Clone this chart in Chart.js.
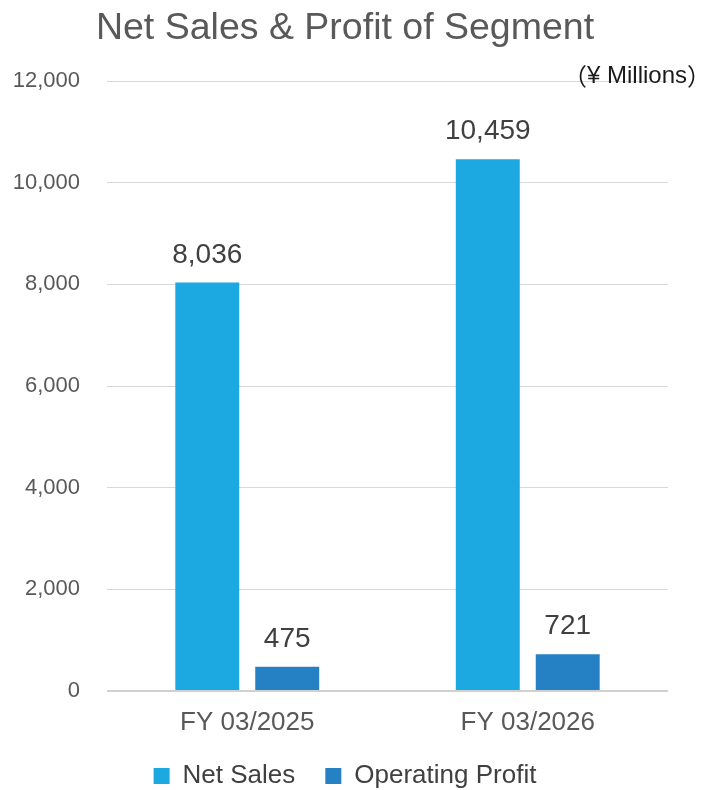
<!DOCTYPE html>
<html>
<head>
<meta charset="utf-8">
<script src="https://cdn.jsdelivr.net/npm/chart.js@4/dist/chart.umd.min.js"></script>
<style>
  body { margin: 0; background: #fff; }
  #wrap { width: 705px; height: 790px; }
</style>
</head>
<body>
<div id="wrap"><canvas id="segChart" width="705" height="790"></canvas></div>
<script>
const categories = ['FY 03/2025', 'FY 03/2026'];
const netSales = [8036, 10459];
const operatingProfit = [475, 721];
const yTicks = [0, 2000, 4000, 6000, 8000, 10000, 12000];
const unitNote = ['（', '¥ Millions', '）'];

const FONT = "'Liberation Sans', Arial, sans-serif";
const CJK = "'Noto Sans CJK JP', sans-serif";

// value labels above bars + unit note
const labelPlugin = {
    id: 'labels',
    afterLayout(chart) {
        // let the y tick labels use the left padding too (otherwise they get clipped)
        chart.scales.y.left = 0;
    },
    afterDatasetsDraw(chart) {
        const ctx = chart.ctx;
        ctx.save();
        ctx.font = '28px ' + FONT;
        ctx.fillStyle = '#404040';
        ctx.textAlign = 'center';
        ctx.textBaseline = 'alphabetic';
        chart.data.datasets.forEach((ds, i) => {
            chart.getDatasetMeta(i).data.forEach((bar, j) => {
                ctx.fillText(ds.data[j].toLocaleString('en-US'), bar.x, bar.y - 20);
            });
        });
        // unit note, drawn right to left
        ctx.fillStyle = '#1a1a1a';
        ctx.textAlign = 'right';
        ctx.textBaseline = 'middle';
        let x = 711;
        const fonts = ['24px ' + CJK, '24px ' + FONT, '24px ' + CJK];
        for (let k = unitNote.length - 1; k >= 0; k--) {
            ctx.font = fonts[k];
            ctx.fillText(unitNote[k], x, 76);
            x -= ctx.measureText(unitNote[k]).width;
        }
        ctx.restore();
    }
};

new Chart(document.getElementById('segChart').getContext('2d'), {
    type: 'bar',
    data: {
        labels: categories,
        datasets: [{
            label: 'Net Sales',
            data: netSales,
            backgroundColor: '#1CA9E1',
            barPercentage: 0.8,
            categoryPercentage: 0.57
        }, {
            label: 'Operating Profit',
            data: operatingProfit,
            backgroundColor: '#2680C4',
            barPercentage: 0.8,
            categoryPercentage: 0.57
        }]
    },
    options: {
        responsive: false,
        animation: false,
        layout: { padding: { left: 22, right: 37, top: 0, bottom: 0 } },
        scales: {
            x: {
                grid: { display: false },
                border: { display: false },
                afterFit(axis) { axis.height = 42; },
                ticks: { color: '#595959', font: { family: FONT, size: 26 }, padding: 8 }
            },
            y: {
                min: 0,
                max: 12000,
                afterBuildTicks(axis) { axis.ticks = yTicks.map(v => ({ value: v })); },
                afterFit(axis) { axis.width = 85; },
                border: { display: false },
                grid: {
                    color: ctx => ctx.tick && ctx.tick.value === 0 ? '#d0d0d0' : '#d9d9d9',
                    lineWidth: ctx => ctx.tick && ctx.tick.value === 0 ? 2 : 1,
                    drawTicks: false
                },
                ticks: {
                    color: '#595959',
                    font: { family: FONT, size: 22 },
                    padding: 27,
                    callback: v => v.toLocaleString('en-US')
                }
            }
        },
        plugins: {
            title: {
                display: true,
                text: 'Net Sales & Profit of Segment',
                color: '#595959',
                font: { family: FONT, size: 37.5, weight: 'normal' },
                padding: { top: 6, bottom: 30 }
            },
            legend: {
                position: 'bottom',
                maxHeight: 57,
                labels: {
                    color: '#404040',
                    font: { family: FONT, size: 26 },
                    boxWidth: 16,
                    boxHeight: 16,
                    padding: 30
                }
            },
            tooltip: { enabled: false }
        }
    },
    plugins: [labelPlugin]
});
</script>
</body>
</html>
